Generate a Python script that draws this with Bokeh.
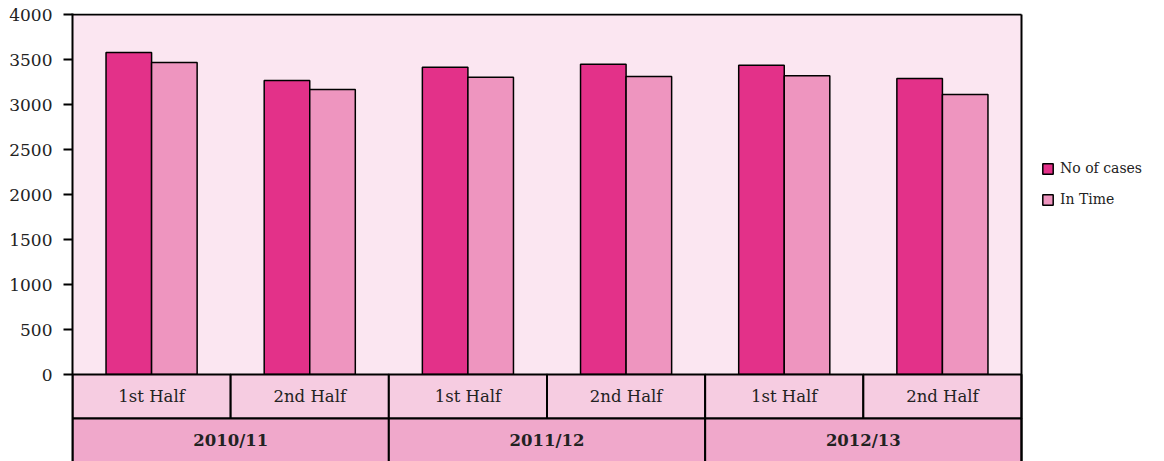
from bokeh.plotting import figure
from bokeh.models import Range1d, FixedTicker, Legend, LegendItem
from bokeh.core.properties import value
from bokeh.embed import file_html
from bokeh.resources import INLINE

# ---- data ----
halves = ["1st Half", "2nd Half", "1st Half", "2nd Half", "1st Half", "2nd Half"]
years = ["2010/11", "2011/12", "2012/13"]
no_of_cases = [3578, 3267, 3415, 3448, 3437, 3289]
in_time = [3467, 3167, 3304, 3311, 3319, 3111]
y_ticks = [0, 500, 1000, 1500, 2000, 2500, 3000, 3500, 4000]

# ---- style ----
C_CASES = "#E33189"
C_TIME = "#EE95BF"
BG = "#FBE6F1"
ROW1 = "#F6CCE1"
ROW2 = "#F0A8CB"
FONT = "DejaVu Serif"
TXT = "#222222"

W, H = 1164, 461
L, T, B = 72, 13, 0
plot_w = 949                      # width of the chart box in px
n = len(halves)
x_end = n * (W - L) / plot_w      # frame extends to the right edge (room for legend)
frame_h = H - T - B
ymax = 4000
px_per_unit = 360 / ymax
y_top = ymax + 1 / px_per_unit
ymin = -87 / px_per_unit
row1_bottom = -44 / px_per_unit

p = figure(width=W, height=H, output_backend="svg", toolbar_location=None,
           x_range=Range1d(0, x_end), y_range=Range1d(ymin, y_top),
           min_border_left=L, min_border_right=0, min_border_top=T, min_border_bottom=B)
p.background_fill_color = "white"
p.border_fill_color = "white"
p.outline_line_color = None
p.xaxis.visible = False
p.xgrid.visible = False
p.ygrid.visible = False

ya = p.yaxis[0]
ya.ticker = FixedTicker(ticks=y_ticks)
ya.minor_tick_line_color = None
ya.major_tick_in = 0
ya.major_tick_out = 9
ya.major_tick_line_width = 2
ya.axis_line_width = 2
ya.axis_line_color = "black"
ya.major_label_text_font = FONT
ya.major_label_text_font_size = "17px"
ya.major_label_text_color = TXT
ya.major_label_standoff = 11

# plot background above zero
p.quad(left=[0], right=[n], bottom=[0], top=[ymax], fill_color=BG, line_color=None)

# bars
xs = [i + 0.5 for i in range(n)]
bw = 0.288
r1 = p.vbar(x=[x - bw / 2 for x in xs], top=no_of_cases, width=bw, bottom=0,
            fill_color=C_CASES, line_color="black", line_width=1.5)
r2 = p.vbar(x=[x + bw / 2 for x in xs], top=in_time, width=bw, bottom=0,
            fill_color=C_TIME, line_color="black", line_width=1.5)

# category table
p.quad(left=list(range(n)), right=[i + 1 for i in range(n)], top=[0] * n,
       bottom=[row1_bottom] * n, fill_color=ROW1, line_color="black", line_width=2)
ny = len(years)
p.quad(left=[2 * j for j in range(ny)], right=[2 * j + 2 for j in range(ny)],
       top=[row1_bottom] * ny, bottom=[ymin - 200] * ny, fill_color=ROW2,
       line_color="black", line_width=2)
p.text(x=xs, y=[row1_bottom / 2] * n, text=halves, text_align="center",
       text_baseline="middle", text_font=value(FONT), text_font_size="16.5px",
       text_color=TXT)
p.text(x=[2 * j + 1 for j in range(ny)], y=[(row1_bottom + ymin) / 2] * ny,
       text=years, text_align="center", text_baseline="middle", text_font=value(FONT),
       text_font_size="16.5px", text_font_style="bold", text_color=TXT)

# chart box border (top and right)
p.segment(x0=[0, n], y0=[ymax, ymin], x1=[n, n], y1=[ymax, ymax],
          line_color="black", line_width=2)

legend = Legend(items=[LegendItem(label="No of cases", renderers=[r1]),
                       LegendItem(label="In Time", renderers=[r2])],
                location=(plot_w + 20, 252), orientation="vertical")
legend.background_fill_alpha = 0
legend.border_line_color = None
legend.glyph_width = 13
legend.glyph_height = 13
legend.label_height = 20
legend.label_text_font = FONT
legend.label_text_font_size = "14px"
legend.label_text_color = TXT
legend.label_standoff = 6
legend.spacing = 11
legend.padding = 0
legend.margin = 0
p.add_layout(legend, "center")

open("out.html", "w").write(file_html(p, INLINE))
